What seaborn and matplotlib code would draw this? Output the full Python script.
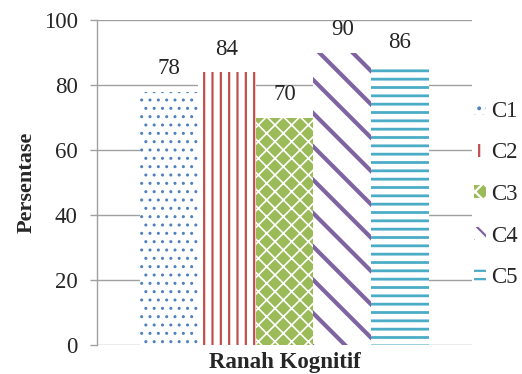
import matplotlib
matplotlib.use("Agg")
import matplotlib.pyplot as plt
import seaborn as sns
import pandas as pd

# data
categories = ["C1", "C2", "C3", "C4", "C5"]
values = [78, 84, 70, 90, 86]
group = "Ranah Kognitif"
yticks = [0, 20, 40, 60, 80, 100]

colors = ["#4F81BD", "#C0504D", "#9BBB59", "#8064A2", "#4BACC6"]
hatches = ["..", "||", "xx", "\\", "--"]
legend_hatches = ["..", "||", "xx", "\\\\", "--"]
hatch_lw = [1.0, 1.6, 1.2, 3.0, 2.0]

sns.set_theme(style="white")
plt.rcParams["font.family"] = ["Liberation Serif", "DejaVu Serif"]
plt.rcParams["hatch.linewidth"] = 1.6

df = pd.DataFrame({"grp": [group] * len(categories), "cat": categories, "val": values})

fig = plt.figure(figsize=(5.22, 3.74), dpi=100)
ax = fig.add_axes([0.186, 0.0775, 0.718, 0.869])

sns.barplot(data=df, x="grp", y="val", hue="cat", hue_order=categories,
            palette=colors, width=0.77, gap=0.0, legend=False, ax=ax)

for i, cont in enumerate(ax.containers):
    for p in cont:
        if i == 2:
            p.set_facecolor(colors[i])
            p.set_edgecolor("white")
        else:
            p.set_facecolor("white")
            p.set_edgecolor(colors[i])
        p.set_linewidth(0)
        p.set_hatch(hatches[i])
        if hasattr(p, "set_hatch_linewidth"):
            p.set_hatch_linewidth(hatch_lw[i])
    ax.bar_label(cont, labels=[str(v) for v in cont.datavalues.astype(int)],
                 padding=9, fontsize=16.5, clip_on=False)

ax.set_ylim(0, 100)
ax.set_yticks(yticks)
ax.set_xlim(-0.5, 0.5)
ax.set_xticks([])
ax.yaxis.grid(True, color="#A0A0A0", linewidth=1.0)
ax.set_axisbelow(True)
for s in ["top", "right", "bottom"]:
    ax.spines[s].set_visible(False)
ax.spines["left"].set_color("#A0A0A0")
ax.spines["left"].set_linewidth(1.0)
ax.tick_params(axis="y", which="major", left=True, length=5, width=1.0,
               color="#A0A0A0", labelsize=16.5, pad=9)
ax.set_ylabel("Persentase", fontsize=16, fontweight="bold", labelpad=5)
ax.set_xlabel(group, fontsize=16.5, fontweight="bold", labelpad=5)

# legend with small hatched swatches
handles = []
for i, c in enumerate(categories):
    h = matplotlib.patches.Patch(
        facecolor=colors[i] if i == 2 else "white",
        edgecolor="white" if i == 2 else colors[i],
        hatch=legend_hatches[i], linewidth=0, label=c)
    handles.append(h)
ax.legend(handles=handles, loc="center left", bbox_to_anchor=(1.0, 0.463),
          frameon=False, fontsize=16.5, handlelength=0.5, handleheight=0.5,
          handletextpad=0.25, labelspacing=0.9, borderpad=0, borderaxespad=0.1)

fig.savefig("out.png", dpi=100)
